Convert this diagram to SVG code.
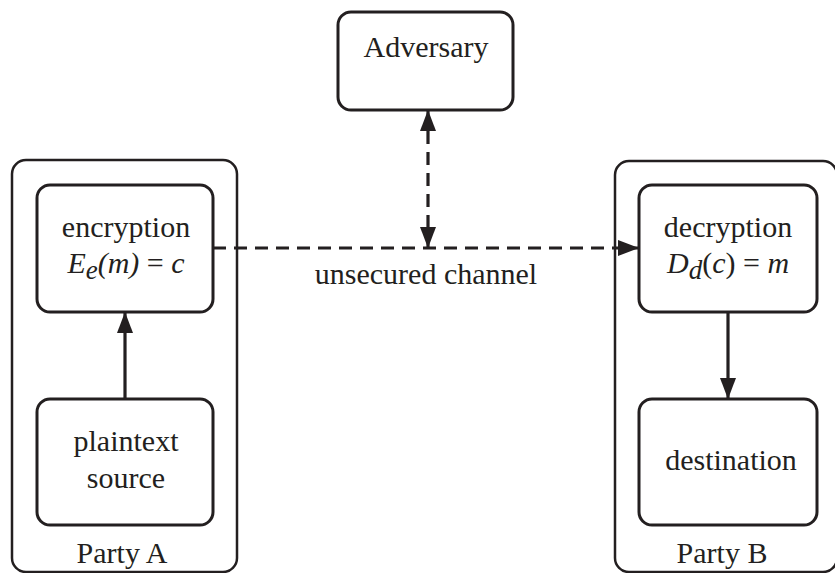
<svg xmlns="http://www.w3.org/2000/svg" width="835" height="573" viewBox="0 0 835 573">
  <style>
    .box { fill: #fff; stroke: #231f20; stroke-width: 3; }
    .party { fill: none; stroke: #231f20; stroke-width: 2.5; }
    .lbl { font-family: 'Liberation Serif', 'DejaVu Serif', serif; font-size: 30px; fill: #231f20; text-anchor: middle; }
    .it { font-style: italic; }
    .link { fill: none; stroke: #231f20; stroke-width: 3.2; }
    .dash { stroke-dasharray: 13 8; }
  </style>
  <defs>
    <marker id="head" viewBox="0 0 21 16" refX="21" refY="8" markerWidth="21" markerHeight="16" markerUnits="userSpaceOnUse" orient="auto-start-reverse">
      <path d="M0,0 L21,8 L0,16 Z" fill="#231f20"/>
    </marker>
  </defs>
  <rect width="835" height="573" fill="#fff"/>

  <g id="party-a">
    <rect class="party" x="12" y="160" width="225" height="412" rx="14"/>
    <text class="lbl" x="122" y="563">Party A</text>
  </g>
  <g id="party-b">
    <rect class="party" x="615" y="161" width="222" height="411" rx="14"/>
    <text class="lbl" x="722" y="563">Party B</text>
  </g>

  <g id="adversary">
    <rect class="box" x="338" y="12" width="175" height="98" rx="13"/>
    <text class="lbl" x="426" y="57">Adversary</text>
  </g>

  <g id="encryption">
    <rect class="box" x="37" y="185" width="176" height="127" rx="13"/>
    <text class="lbl" x="126" y="237">encryption</text>
    <text class="lbl" x="126" y="273"><tspan class="it">E</tspan><tspan class="it" font-size="27" dy="6">e</tspan><tspan class="it" dy="-6">(m)</tspan> = <tspan class="it">c</tspan></text>
  </g>

  <g id="plaintext-source">
    <rect class="box" x="37" y="399" width="176" height="126" rx="13"/>
    <text class="lbl" x="126" y="451">plaintext</text>
    <text class="lbl" x="126" y="488">source</text>
  </g>

  <g id="decryption">
    <rect class="box" x="639" y="185" width="178" height="127" rx="13"/>
    <text class="lbl" x="728" y="237">decryption</text>
    <text class="lbl" x="728" y="273"><tspan class="it">D</tspan><tspan class="it" font-size="27" dy="6">d</tspan><tspan dy="-6">(</tspan><tspan class="it">c</tspan>) = <tspan class="it">m</tspan></text>
  </g>

  <g id="destination">
    <rect class="box" x="639" y="399" width="178" height="126" rx="13"/>
    <text class="lbl" x="731" y="470">destination</text>
  </g>

  <g id="connectors">
    <!-- plaintext source feeds encryption -->
    <line class="link" x1="125" y1="399" x2="125" y2="312" marker-end="url(#head)"/>
    <!-- decryption delivers to destination -->
    <line class="link" x1="728" y1="312" x2="728" y2="399" marker-end="url(#head)"/>
    <!-- ciphertext over the open channel -->
    <line class="link dash" x1="213" y1="248" x2="639" y2="248" marker-end="url(#head)"/>
    <!-- adversary taps the channel both ways -->
    <line class="link dash" x1="428" y1="110" x2="428" y2="248" marker-start="url(#head)" marker-end="url(#head)"/>
    <text class="lbl" x="426" y="284">unsecured channel</text>
  </g>
</svg>
